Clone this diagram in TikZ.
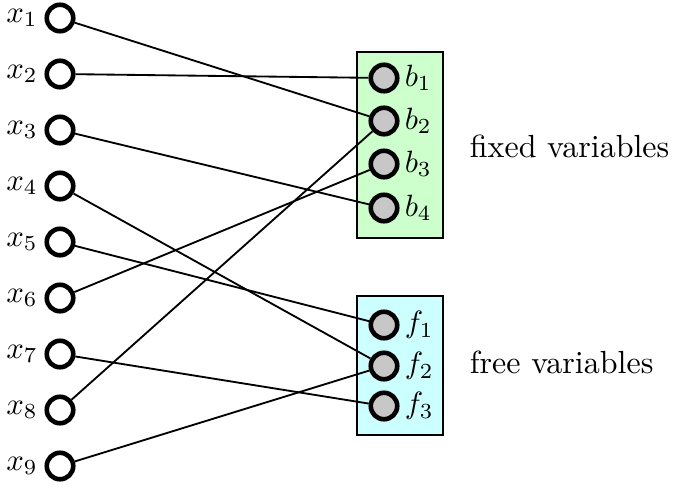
\documentclass[tikz,border=0pt]{standalone}
\definecolor{fixedfill}{RGB}{204,255,204}
\definecolor{freefill}{RGB}{204,255,255}
\tikzset{
  var/.style={circle, draw=black, line width=1.5pt, minimum size=8.6pt, inner sep=0pt},
  invar/.style={var, fill=white},
  outvar/.style={var, fill=black!22},
  group/.style={draw=black, line width=0.4pt},
  wire/.style={line width=0.6pt}
}
\begin{document}
\begin{tikzpicture}[x=0.325pt, y=-0.325pt, font=\fontsize{10.4}{12.5}\selectfont]
  \useasboundingbox (0,0) rectangle (678,492);
  % group boxes
  \draw[group, fill=fixedfill] (357,52) rectangle (443,238);
  \draw[group, fill=freefill] (357,296) rectangle (443,435);
  % circle centres
  \foreach \i/\y in {1/18,2/74,3/130,4/186,5/242,6/298,7/354,8/410,9/466}
    \coordinate (cx\i) at (60,\y);
  \foreach \i/\y in {1/78,2/121,3/164,4/208}
    \coordinate (cb\i) at (384,\y);
  \foreach \i/\y in {1/325,2/366,3/406}
    \coordinate (cf\i) at (384,\y);
  % input variables
  \foreach \i in {1,...,9}
    \node[invar, label={[inner sep=2pt]left:$x_{\i}$}] (x\i) at (cx\i) {};
  % fixed variables
  \foreach \i in {1,...,4}
    \node[outvar, label={[inner sep=1.5pt]right:$b_{\i}$}] (b\i) at (cb\i) {};
  % free variables
  \foreach \i in {1,...,3}
    \node[outvar, label={[inner sep=1.5pt]right:$f_{\i}$}] (f\i) at (cf\i) {};
  % group captions
  \node[anchor=west] (fixedlbl) at (459,146) {fixed variables};
  \node[anchor=west] (freelbl) at (459,362) {free variables};
  % assignment wires
  \draw[wire] (x1) -- (b2);
  \draw[wire] (x2) -- (b1);
  \draw[wire] (x3) -- (b4);
  \draw[wire] (x4) -- (f2);
  \draw[wire] (x5) -- (f1);
  \draw[wire] (x6) -- (b3);
  \draw[wire] (x7) -- (f3);
  \draw[wire] (x8) -- (b2);
  \draw[wire] (x9) -- (f2);
\end{tikzpicture}
\end{document}
